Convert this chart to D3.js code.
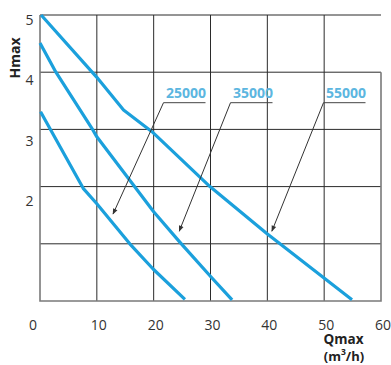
<!DOCTYPE html>
<html>
<head>
<meta charset="utf-8">
<script src="https://cdn.jsdelivr.net/npm/d3@7"></script>
<style>
  html, body { margin: 0; padding: 0; background: #fff; }
  svg { display: block; }
  text { font-family: "Open Sans", "Noto Sans", sans-serif; }
</style>
</head>
<body>
<svg id="chart" width="391" height="365"></svg>
<script>
// Pump curves: flow Q (m³/h) against head H (m)
const seriesNames = ["25000", "35000", "55000"];
const flow25000 = [0.1, 7.6, 10.0, 15.8, 19.9, 25.5];
const head25000 = [3.31, 1.97, 1.70, 1.00, 0.56, 0.03];
const flow35000 = [0.0, 2.8, 9.3, 10.0, 15.5, 20.0, 24.6, 30.1, 33.8];
const head35000 = [4.51, 4.00, 2.99, 2.87, 2.15, 1.56, 1.03, 0.42, 0.02];
const flow55000 = [0.2, 10.0, 14.7, 19.7, 29.9, 39.9, 54.9];
const head55000 = [5.00, 3.91, 3.34, 2.96, 2.00, 1.18, 0.02];
// Points on each curve that the callouts point to (Q, H)
const calloutFlow = [12.85, 24.5, 40.8];
const calloutHead = [1.52, 1.22, 1.22];

const xTicks = [0, 10, 20, 30, 40, 50, 60];
const yGrid = [0, 1, 2, 3, 4, 5];
const yTickLabels = [2, 3, 4, 5];

const series = [
  { name: seriesNames[0], q: flow25000, h: head25000 },
  { name: seriesNames[1], q: flow35000, h: head35000 },
  { name: seriesNames[2], q: flow55000, h: head55000 }
];

const svg = d3.select("#chart");
const plotLeft = 40, plotRight = 381, plotTop = 15, plotBottom = 301;

const x = d3.scaleLinear().domain([0, 60]).range([plotLeft, plotRight]);
const y = d3.scaleLinear().domain([0, 5]).range([plotBottom, plotTop]);
// The head numbers are set on their own, slightly wider spacing
const yLabel = d3.scaleLinear().domain([0, 5]).range([322.5, 20]);

const curveBlue = "#1ba0dc";
const labelBlue = "#5cb6e0";
const gridColor = "#2b2b2b";

// Grid
const grid = svg.append("g");
grid.selectAll("line.v").data(xTicks.slice(1, -1)).join("line")
  .attr("class", "v")
  .attr("x1", d => x(d)).attr("x2", d => x(d))
  .attr("y1", plotTop).attr("y2", plotBottom)
  .attr("stroke", gridColor).attr("stroke-width", 1);
grid.selectAll("line.h").data(yGrid.slice(1)).join("line")
  .attr("class", "h")
  .attr("x1", plotLeft).attr("x2", plotRight)
  .attr("y1", d => y(d)).attr("y2", d => y(d))
  .attr("stroke", gridColor).attr("stroke-width", 1);
// Frame: left, right and bottom edges in grey
grid.append("path")
  .attr("d", `M${plotLeft},${plotTop}V${plotBottom}H${plotRight}V${y(4)}`)
  .attr("fill", "none").attr("stroke", "#7a7a7a").attr("stroke-width", 1.6);

// Axes (labels only)
const xAxis = svg.append("g")
  .attr("transform", `translate(0,${plotBottom})`)
  .call(d3.axisBottom(x).tickValues(xTicks).tickSize(0).tickPadding(19).tickFormat(d3.format("d")));
xAxis.select(".domain").remove();
xAxis.selectAll("text")
  .attr("font-size", 14).attr("fill", "#333")
  .attr("dx", d => d === 0 ? -7.5 : 1.5);

const yAxis = svg.append("g")
  .attr("transform", `translate(${plotLeft},0)`)
  .call(d3.axisLeft(yLabel).tickValues(yTickLabels).tickSize(0).tickPadding(6.5).tickFormat(d3.format("d")));
yAxis.select(".domain").remove();
yAxis.selectAll("text").attr("font-size", 14).attr("fill", "#333");

// Axis titles
svg.append("text")
  .attr("transform", "translate(19.5,58) rotate(-90)")
  .attr("text-anchor", "middle")
  .attr("font-size", 14).attr("font-weight", "bold").attr("fill", "#222")
  .text("Hmax");

svg.append("text")
  .attr("x", 343.5).attr("y", 344)
  .attr("text-anchor", "middle")
  .attr("font-size", 13.5).attr("font-weight", "bold").attr("fill", "#222")
  .text("Qmax");
const unit = svg.append("text")
  .attr("x", 344).attr("y", 360.5)
  .attr("text-anchor", "middle")
  .attr("font-size", 13).attr("font-weight", "bold").attr("fill", "#222");
unit.append("tspan").text("(m");
unit.append("tspan").attr("font-size", 8.5).attr("dy", -5.5).text("3");
unit.append("tspan").attr("dy", 5.5).text("/h)");

// Curves
const line = d3.line().x(d => x(d[0])).y(d => y(d[1]));
svg.append("g").selectAll("path").data(series).join("path")
  .attr("d", s => line(s.q.map((q, i) => [q, s.h[i]])))
  .attr("fill", "none")
  .attr("stroke", curveBlue)
  .attr("stroke-width", 3.2)
  .attr("stroke-linejoin", "round");

// Callouts: label, underline and arrow down to its curve
svg.append("defs").append("marker")
  .attr("id", "tip")
  .attr("viewBox", "0 0 10 10")
  .attr("refX", 9).attr("refY", 5)
  .attr("markerUnits", "userSpaceOnUse")
  .attr("markerWidth", 7).attr("markerHeight", 6)
  .attr("orient", "auto")
  .append("path").attr("d", "M0,1L10,5L0,9Z").attr("fill", "#333");

const labelX = [166, 233, 326];
const labelBaseline = 98.3;
const underlineY = 102.7;
const callouts = svg.append("g");
series.forEach((s, i) => {
  const lx = labelX[i];
  callouts.append("text")
    .attr("x", lx).attr("y", labelBaseline)
    .attr("font-size", 14).attr("font-weight", "bold").attr("fill", labelBlue)
    .text(s.name);
  callouts.append("line")
    .attr("x1", lx - 2.5).attr("x2", lx + 39.5)
    .attr("y1", underlineY).attr("y2", underlineY)
    .attr("stroke", "#444").attr("stroke-width", 1);
  callouts.append("line")
    .attr("x1", lx - 2.5).attr("y1", underlineY)
    .attr("x2", x(calloutFlow[i])).attr("y2", y(calloutHead[i]))
    .attr("stroke", "#333").attr("stroke-width", 1)
    .attr("marker-end", "url(#tip)");
});
</script>
</body>
</html>
